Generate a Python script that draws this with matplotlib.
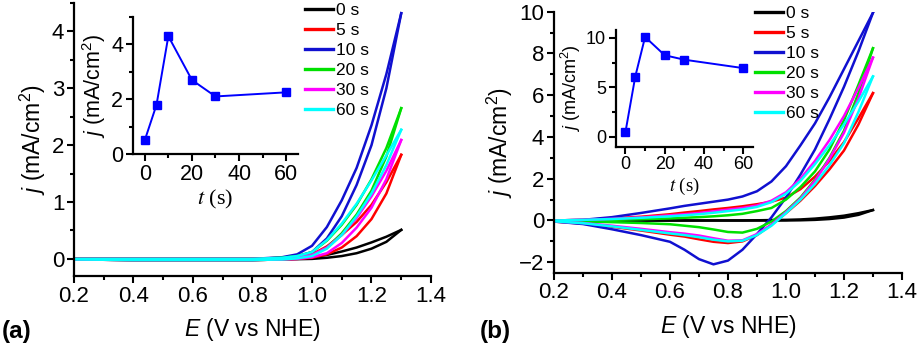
import matplotlib.pyplot as plt
from matplotlib.ticker import MultipleLocator

plt.rcParams['font.family'] = ['Liberation Sans', 'DejaVu Sans']
plt.rcParams['mathtext.fontset'] = 'custom'
plt.rcParams['mathtext.rm'] = 'Liberation Sans'
plt.rcParams['mathtext.it'] = 'Liberation Sans:italic'

labels = ['0 s', '5 s', '10 s', '20 s', '30 s', '60 s']
colors = ['#000000', '#ff0000', '#1010d0', '#00e000', '#ff00ff', '#00ffff']

# panel (a): potential grid, forward (up) and reverse (dn) branches
Ea = [0.2, 0.4, 0.6, 0.8, 0.9, 0.95, 1.0, 1.05, 1.1, 1.15, 1.2, 1.25, 1.3]
ja_0_up = [0, 0, 0, 0, 0.01, 0.02, 0.03, 0.07, 0.13, 0.2, 0.29, 0.39, 0.51]
ja_0_dn = [-0.01, -0.02, -0.02, -0.02, -0.01, -0.005, 0.0, 0.02, 0.05, 0.1, 0.18, 0.3, 0.51]
ja_5_up = [0, 0, 0, 0, 0.02, 0.04, 0.08, 0.22, 0.42, 0.65, 0.95, 1.35, 1.83]
ja_5_dn = [-0.01, -0.02, -0.02, -0.02, -0.01, 0.0, 0.02, 0.08, 0.2, 0.4, 0.7, 1.15, 1.83]
ja_10_up = [0, 0, 0, 0, 0.03, 0.08, 0.23, 0.56, 1.03, 1.6, 2.35, 3.25, 4.32]
ja_10_dn = [-0.01, -0.02, -0.02, -0.02, 0.0, 0.04, 0.12, 0.36, 0.75, 1.3, 2.0, 3.0, 4.32]
ja_20_up = [0, 0, 0, 0, 0.02, 0.05, 0.12, 0.32, 0.6, 0.95, 1.4, 1.95, 2.65]
ja_20_dn = [-0.01, -0.02, -0.02, -0.02, -0.01, 0.01, 0.06, 0.2, 0.45, 0.78, 1.2, 1.8, 2.65]
ja_30_up = [0, 0, 0, 0, 0.01, 0.03, 0.07, 0.2, 0.42, 0.72, 1.1, 1.55, 2.09]
ja_30_dn = [-0.01, -0.02, -0.02, -0.02, -0.01, 0.0, 0.03, 0.1, 0.28, 0.55, 0.9, 1.4, 2.09]
ja_60_up = [0, 0, 0, 0, 0.02, 0.05, 0.12, 0.33, 0.62, 0.97, 1.38, 1.82, 2.27]
ja_60_dn = [-0.01, -0.02, -0.02, -0.02, -0.01, 0.01, 0.05, 0.18, 0.42, 0.75, 1.15, 1.65, 2.27]

# panel (b)
Eb = [0.2, 0.3, 0.4, 0.5, 0.6, 0.65, 0.7, 0.75, 0.8, 0.85, 0.9, 0.95, 1.0, 1.05, 1.1, 1.15, 1.2, 1.25, 1.3]
jb_0_up = [0, 0, 0, 0, 0, 0, 0, 0, 0, 0, 0.01, 0.02, 0.03, 0.05, 0.09, 0.15, 0.23, 0.35, 0.5]
jb_0_dn = [0, 0, 0, 0, 0, 0, 0, 0, 0, 0, 0, 0, 0, 0.01, 0.03, 0.07, 0.14, 0.27, 0.5]
jb_5_up = [0, 0.03, 0.1, 0.18, 0.3, 0.38, 0.45, 0.53, 0.6, 0.68, 0.78, 0.9, 1.1, 1.5, 2.1, 2.85, 3.75, 4.9, 6.1]
jb_5_dn = [-0.05, -0.15, -0.3, -0.48, -0.68, -0.77, -0.9, -1.02, -1.08, -1.0, -0.7, -0.2, 0.35, 0.95, 1.65, 2.45, 3.35, 4.6, 6.1]
jb_10_up = [0, 0.03, 0.16, 0.36, 0.58, 0.7, 0.8, 0.9, 1.0, 1.15, 1.4, 1.87, 2.6, 3.6, 4.65, 5.9, 7.25, 8.6, 9.95]
jb_10_dn = [-0.05, -0.17, -0.42, -0.7, -1.02, -1.4, -1.85, -2.1, -1.92, -1.4, -0.65, 0.15, 1.1, 2.2, 3.4, 4.85, 6.4, 8.1, 9.95]
jb_20_up = [0, 0.01, 0.03, 0.06, 0.1, 0.13, 0.16, 0.2, 0.25, 0.32, 0.45, 0.6, 1.0, 1.6, 2.35, 3.4, 4.8, 6.5, 8.25]
jb_20_dn = [-0.02, -0.05, -0.08, -0.12, -0.18, -0.25, -0.32, -0.43, -0.55, -0.58, -0.4, -0.05, 0.45, 1.1, 1.95, 3.0, 4.3, 6.1, 8.25]
jb_30_up = [0, 0.03, 0.08, 0.15, 0.25, 0.3, 0.36, 0.44, 0.52, 0.6, 0.72, 0.95, 1.35, 2.0, 2.85, 3.85, 5.0, 6.35, 7.8]
jb_30_dn = [-0.04, -0.12, -0.25, -0.4, -0.56, -0.63, -0.72, -0.85, -0.97, -0.95, -0.65, -0.2, 0.4, 1.05, 1.9, 2.95, 4.2, 5.85, 7.8]
jb_60_up = [0, 0.03, 0.07, 0.13, 0.2, 0.25, 0.3, 0.37, 0.45, 0.53, 0.65, 0.88, 1.28, 1.9, 2.7, 3.6, 4.6, 5.7, 6.9]
jb_60_dn = [-0.04, -0.13, -0.28, -0.45, -0.62, -0.7, -0.8, -0.92, -1.0, -0.97, -0.7, -0.25, 0.35, 1.0, 1.75, 2.65, 3.7, 5.2, 6.9]

# insets: current at 1.3 V vs deposition time
t_dep = [0, 5, 10, 20, 30, 60]
ja_inset = [0.5, 1.8, 4.3, 2.7, 2.1, 2.25]
jb_inset = [0.5, 6.1, 10.1, 8.25, 7.8, 6.95]

curves_a = [(ja_0_up, ja_0_dn), (ja_5_up, ja_5_dn), (ja_10_up, ja_10_dn),
            (ja_20_up, ja_20_dn), (ja_30_up, ja_30_dn), (ja_60_up, ja_60_dn)]
curves_b = [(jb_0_up, jb_0_dn), (jb_5_up, jb_5_dn), (jb_10_up, jb_10_dn),
            (jb_20_up, jb_20_dn), (jb_30_up, jb_30_dn), (jb_60_up, jb_60_dn)]

fig = plt.figure(figsize=(9.17, 3.48), dpi=100)


def style(ax, fs):
    for s in ['top', 'right']:
        ax.spines[s].set_visible(False)
    for s in ['left', 'bottom']:
        ax.spines[s].set_linewidth(1.6)
    ax.tick_params(which='major', direction='out', length=5, width=1.5, labelsize=fs, pad=2)
    ax.tick_params(which='minor', direction='out', length=3, width=1.5)


def main_panel(rect, E, curves, ylim, ymaj, ymin, legpos, tag, tagx):
    ax = fig.add_axes(rect)
    for (up, dn), c, lab in zip(curves, colors, labels):
        ax.plot(E, up, color=c, lw=1.8, label=lab)
        ax.plot(E[::-1], dn[::-1], color=c, lw=1.8)
    ax.set_xlim(0.2, 1.4)
    ax.set_ylim(*ylim)
    ax.xaxis.set_major_locator(MultipleLocator(0.2))
    ax.xaxis.set_minor_locator(MultipleLocator(0.1))
    ax.yaxis.set_major_locator(MultipleLocator(ymaj))
    ax.yaxis.set_minor_locator(MultipleLocator(ymin))
    ax.xaxis.set_major_formatter(plt.FuncFormatter(lambda v, p: '%.1f' % v))
    style(ax, 16)
    ax.set_xlabel(r'$E$ (V vs NHE)', fontsize=16.5, labelpad=7)
    ax.set_ylabel(r'$j$ (mA/cm$^2$)', fontsize=16.5, labelpad=3)
    leg = ax.legend(loc='upper left', bbox_to_anchor=legpos, bbox_transform=fig.transFigure,
                    frameon=False, fontsize=12.5, handlelength=1.6, handletextpad=0.2,
                    labelspacing=0.28, borderpad=0, borderaxespad=0)
    for ln in leg.get_lines():
        ln.set_linewidth(2.4)
    fig.text(tagx, 0.03, tag, fontsize=17.5, fontweight='bold', va='baseline')
    return ax


def inset(rect, y, ylim, ymaj, ymin, fs):
    ax = fig.add_axes(rect)
    ax.plot(t_dep, y, color='#0000ff', lw=1.4, marker='s', ms=6.2)
    ax.set_xlim(-5, 65)
    ax.set_ylim(*ylim)
    ax.xaxis.set_major_locator(MultipleLocator(20))
    ax.xaxis.set_minor_locator(MultipleLocator(10))
    ax.yaxis.set_major_locator(MultipleLocator(ymaj))
    ax.yaxis.set_minor_locator(MultipleLocator(ymin))
    style(ax, fs)
    ax.set_xlabel(r'$t$ (s)', fontsize=fs + 0.5, fontfamily='Liberation Serif',
                  math_fontfamily='stix', labelpad=2)
    ax.set_ylabel(r'$j$ (mA/cm$^2$)', fontsize=fs, labelpad=2)
    return ax


main_panel([0.0807, 0.207, 0.3893, 0.7845], Ea, curves_a, (-0.3, 4.5), 1, 0.5,
           (0.3326, 0.992), '(a)', 0.002)
inset([0.145, 0.5575, 0.180, 0.3937], ja_inset, (0, 5), 2, 1, 15.5)

main_panel([0.6041, 0.2164, 0.3795, 0.75], Eb, curves_b, (-2.5, 10), 2, 1,
           (0.8233, 0.982), '(b)', 0.523)
inset([0.6714, 0.5784, 0.1497, 0.3353], jb_inset, (-1, 10.8), 5, 2.5, 13)

fig.savefig('out.png', dpi=100)
